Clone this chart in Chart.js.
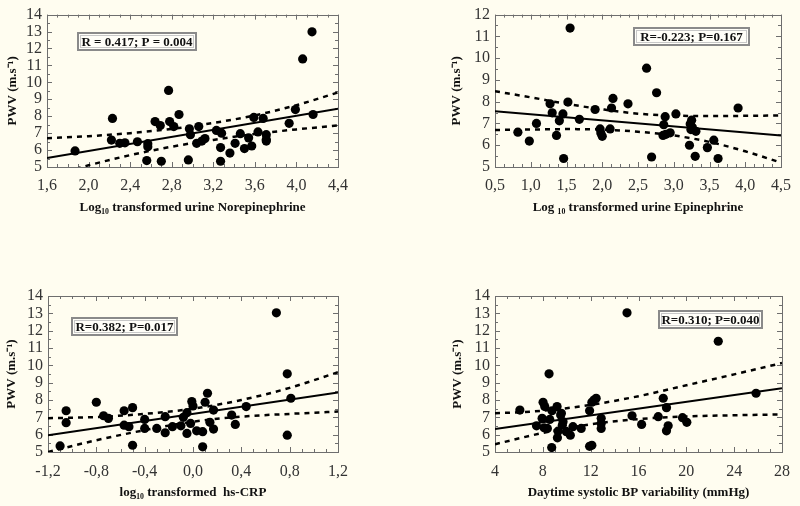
<!DOCTYPE html>
<html><head><meta charset="utf-8">
<script src="https://cdn.jsdelivr.net/npm/chart.js@4/dist/chart.umd.min.js"></script>
<style>
html,body{margin:0;padding:0;background:#FFFDF0;}
#wrap{position:relative;width:800px;height:506px;overflow:hidden;}
.p{position:absolute;width:400px;height:253px;}
</style></head><body>
<div id="wrap">
<div class="p" style="left:0;top:0"><canvas id="c1"></canvas></div>
<div class="p" style="left:400px;top:0"><canvas id="c2"></canvas></div>
<div class="p" style="left:0;top:253px"><canvas id="c3"></canvas></div>
<div class="p" style="left:400px;top:253px"><canvas id="c4"></canvas></div>
</div>
<script>
// ---------- Panel 1: Norepinephrine ----------
const neX = [1.87,2.23,2.22,2.30,2.35,2.47,2.56,2.57,2.57,2.64,2.69,2.70,2.77,2.78,2.82,2.87,2.96,2.97,2.98,3.04,3.06,3.09,3.12,3.23,3.28,3.27,3.27,3.36,3.41,3.46,3.50,3.54,3.57,3.59,3.63,3.68,3.71,3.71,3.71,3.93,3.99,4.06,4.15,4.16];
const neY = [5.95,7.87,6.59,6.40,6.43,6.49,5.38,6.20,6.38,7.68,7.45,5.34,9.52,7.68,7.39,8.10,5.42,7.26,6.91,6.40,7.39,6.53,6.68,7.16,7.00,5.34,6.15,5.82,6.40,6.97,6.09,6.72,6.24,7.93,7.07,7.87,6.91,6.62,6.53,7.58,8.39,11.38,12.98,8.10];
const neFitX = [1.6,4.4];
const neFitY = [5.53,8.44];
const neBandX = [1.6,2.0,2.4,2.8,3.2,3.6,4.0,4.4];
const neUpper = [6.70,6.82,7.00,7.25,7.60,8.05,8.65,9.40];
const neLower = [4.40,5.10,5.70,6.20,6.60,6.95,7.22,7.45];
const neXTicks = [1.6,2.0,2.4,2.8,3.2,3.6,4.0,4.4];
const neYTicks = [5,6,7,8,9,10,11,12,13,14];

// ---------- Panel 2: Epinephrine ----------
const epX = [0.82,0.98,1.08,1.27,1.30,1.36,1.40,1.45,1.46,1.52,1.55,1.68,1.90,1.97,1.98,2.00,2.11,2.13,2.15,2.36,2.62,2.69,2.76,2.86,2.88,2.85,2.89,2.95,3.03,3.22,3.23,3.24,3.25,3.26,3.30,3.31,3.47,3.56,3.62,3.90];
const epY = [6.60,6.19,7.00,7.90,7.49,6.45,7.12,7.44,5.39,7.98,11.38,7.19,7.64,6.75,6.56,6.41,6.75,7.71,8.15,7.90,9.54,5.46,8.41,6.94,7.31,6.45,6.50,6.57,7.44,6.00,6.97,6.72,7.15,6.82,5.49,6.64,5.89,6.23,5.39,7.71];
const epFitX = [0.5,4.5];
const epFitY = [7.56,6.45];
const epBandX = [0.5,1.0,1.5,2.0,2.5,3.0,3.5,4.0,4.5];
const epUpper = [8.48,8.20,7.90,7.65,7.45,7.36,7.34,7.35,7.37];
const epLower = [6.70,6.72,6.74,6.72,6.62,6.45,6.15,5.72,5.20];
const epXTicks = [0.5,1.0,1.5,2.0,2.5,3.0,3.5,4.0,4.5];
const epYTicks = [5,6,7,8,9,10,11,12];

// ---------- Panel 3: hs-CRP ----------
const crpX = [-1.10,-1.05,-1.05,-0.80,-0.74,-0.70,-0.57,-0.57,-0.53,-0.50,-0.50,-0.40,-0.40,-0.30,-0.23,-0.23,-0.17,-0.10,-0.08,-0.05,-0.05,-0.02,-0.01,0.00,0.03,0.08,0.08,0.10,0.12,0.14,0.17,0.17,0.32,0.35,0.44,0.69,0.78,0.78,0.81];
const crpY = [5.35,7.38,6.69,7.87,7.09,6.94,7.38,6.55,6.46,7.56,5.39,6.88,6.36,6.36,7.04,6.11,6.46,6.51,7.00,7.27,6.07,6.65,7.91,7.66,6.22,5.30,6.17,7.87,8.39,6.71,7.42,6.32,7.13,6.59,7.62,13.03,9.51,5.97,8.10];
const crpFitX = [-1.2,1.2];
const crpFitY = [5.97,8.43];
const crpBandX = [-1.2,-0.8,-0.4,0.0,0.4,0.8,1.2];
const crpUpper = [6.95,7.02,7.20,7.50,8.00,8.70,9.60];
const crpLower = [5.00,5.68,6.26,6.75,7.04,7.20,7.33];
const crpXTicks = [-1.2,-0.8,-0.4,0.0,0.4,0.8,1.2];
const crpYTicks = [5,6,7,8,9,10,11,12,13,14];

// ---------- Panel 4: Daytime SBP variability ----------
const bpX = [6.08,7.47,7.94,8.02,8.16,8.11,8.38,8.52,8.58,8.74,8.77,9.19,9.22,9.27,9.49,9.55,9.63,9.69,9.97,10.3,10.52,11.21,11.91,11.91,12.1,12.1,12.27,12.46,12.88,12.88,12.88,15.04,15.46,16.26,17.65,18.07,18.34,18.48,18.34,19.68,20.04,22.67,25.83];
const bpY = [7.42,6.51,6.94,7.87,7.62,6.40,6.36,9.51,6.88,5.26,7.38,7.62,5.82,6.20,7.13,7.23,6.55,6.75,6.17,5.97,6.46,6.36,7.38,5.33,5.39,7.87,8.00,8.10,6.94,6.65,6.36,13.03,7.09,6.59,7.04,8.10,7.56,6.51,6.22,6.98,6.71,11.39,8.39];
const bpFitX = [4,28];
const bpFitY = [6.32,8.68];
const bpBandX = [4,8,12,16,20,24,28];
const bpUpper = [7.23,7.38,7.72,8.22,8.85,9.48,10.13];
const bpLower = [5.45,6.10,6.60,6.90,7.05,7.12,7.17];
const bpXTicks = [4,8,12,16,20,24,28];
const bpYTicks = [5,6,7,8,9,10,11,12,13,14];

const FONT = "'Liberation Serif','Times New Roman',serif";
const pairs = (xs, ys) => xs.map((x, i) => ({x: x, y: ys[i]}));

const framePlugin = {
  id: 'frame',
  beforeDatasetsDraw(chart, args, o) {
    const {ctx, chartArea: a, scales} = chart;
    ctx.save();
    ctx.strokeStyle = '#6e6e6e';
    ctx.lineWidth = 1;
    ctx.strokeRect(Math.round(a.left) + 0.5, Math.round(a.top) + 0.5, Math.round(a.right - a.left), Math.round(a.bottom - a.top));
    ctx.beginPath();
    const xs = scales.x, ys = scales.y;
    for (let v = xs.min; v <= xs.max + 1e-9; v += o.xMinor) {
      const px = Math.round(xs.getPixelForValue(v)) + 0.5;
      const major = o.xTicks.some(t => Math.abs(t - v) < 1e-6);
      const L = major ? 5 : 3;
      ctx.moveTo(px, a.bottom); ctx.lineTo(px, a.bottom - L);
      ctx.moveTo(px, a.top); ctx.lineTo(px, a.top + L);
    }
    for (let v = ys.min; v <= ys.max + 1e-9; v += o.yMinor) {
      const py = Math.round(ys.getPixelForValue(v)) + 0.5;
      const major = Math.abs(v - Math.round(v)) < 1e-6;
      const L = major ? 5 : 3;
      ctx.moveTo(a.left, py); ctx.lineTo(a.left + L, py);
      ctx.moveTo(a.right, py); ctx.lineTo(a.right - L, py);
    }
    ctx.stroke();
    ctx.restore();
  },
  afterDatasetsDraw(chart, args, o) {
    const {ctx} = chart;
    const b = o.box;
    ctx.save();
    ctx.fillStyle = '#FFFEF8';
    ctx.fillRect(b.x, b.y, b.w, b.h);
    ctx.strokeStyle = '#8a8a8a';
    ctx.lineWidth = 2;
    ctx.strokeRect(b.x, b.y, b.w, b.h);
    ctx.strokeStyle = '#c8c8c8';
    ctx.lineWidth = 1;
    ctx.strokeRect(b.x + 2.5, b.y + 2.5, b.w - 5, b.h - 5);
    ctx.fillStyle = '#111';
    ctx.font = 'bold 13px ' + FONT;
    ctx.textAlign = 'center';
    ctx.textBaseline = 'middle';
    ctx.fillText(o.label, b.x + b.w / 2, b.y + b.h / 2 + 1);
    ctx.restore();
  }
};

function makeChart(id, cfg) {
  const datasets = [
    {label: 'data', data: pairs(cfg.px, cfg.py), pointRadius: 4.6, pointHoverRadius: 4.6,
     backgroundColor: '#000', borderWidth: 0, showLine: false, order: 0},
    {label: 'fit', data: pairs(cfg.fx, cfg.fy), showLine: true, pointRadius: 0,
     borderColor: '#000', borderWidth: 2, order: 1},
    {label: 'upper', data: pairs(cfg.bx, cfg.bu), showLine: true, pointRadius: 0,
     borderColor: '#000', borderWidth: 2.5, borderDash: [5, 5], cubicInterpolationMode: 'monotone', order: 2},
    {label: 'lower', data: pairs(cfg.bx, cfg.bl), showLine: true, pointRadius: 0,
     borderColor: '#000', borderWidth: 2.5, borderDash: [5, 5], cubicInterpolationMode: 'monotone', order: 3}
  ];
  const L = cfg.area;
  return new Chart(document.getElementById(id), {
    type: 'scatter',
    data: {datasets},
    plugins: [framePlugin],
    options: {
      responsive: true, maintainAspectRatio: false, animation: false,
      events: [],
      layout: {padding: {left: L.padLeft, right: 400 - L.right, top: L.top, bottom: 253 - L.bottom - 48.8}},
      plugins: {
        legend: {display: false}, tooltip: {enabled: false},
        frame: {xMinor: cfg.xMinor, yMinor: 0.5, xTicks: cfg.xTicks, label: cfg.label, box: cfg.box}
      },
      scales: {
        x: {
          type: 'linear', min: cfg.xTicks[0], max: cfg.xTicks[cfg.xTicks.length - 1],
          afterBuildTicks: s => { s.ticks = cfg.xTicks.map(v => ({value: v})); },
          afterFit: s => { s.height = 48.8; },
          grid: {display: false, drawTicks: false}, border: {display: false},
          ticks: {autoSkip: false, maxRotation: 0, padding: cfg.xPad, color: '#333',
                  font: {family: FONT, size: 16}, callback: cfg.xFmt},
          title: {display: true, text: cfg.xTitle, color: '#111', padding: 0,
                  font: {family: FONT, size: 13, weight: 'bold', lineHeight: 1.2}}
        },
        y: {
          type: 'linear', min: cfg.yTicks[0], max: cfg.yTicks[cfg.yTicks.length - 1],
          afterBuildTicks: s => { s.ticks = cfg.yTicks.map(v => ({value: v})); },
          afterFit: s => { s.width = L.left - L.padLeft; },
          grid: {display: false, drawTicks: false}, border: {display: false},
          ticks: {autoSkip: false, padding: 5, color: '#333', font: {family: FONT, size: 16}},
          title: {display: true, text: 'PWV (m.s\u207B\u00B9)', color: '#111',
                  padding: {top: cfg.yTitleX - L.padLeft - 7.8, bottom: 0},
                  font: {family: FONT, size: 13, weight: 'bold', lineHeight: 1.2}}
        }
      }
    }
  });
}

const comma1 = v => v.toFixed(1).replace('.', ',');
const int0 = v => String(Math.round(v));

makeChart('c1', {px: neX, py: neY, fx: neFitX, fy: neFitY, bx: neBandX, bu: neUpper, bl: neLower,
  xTicks: neXTicks, yTicks: neYTicks, xMinor: 0.1, xFmt: comma1, xPad: 9,
  xTitle: 'Log\u2081\u2080 transformed urine Norepinephrine', yTitleX: 13,
  label: 'R = 0.417; P = 0.004', box: {x: 78, y: 33, w: 118, h: 17},
  area: {padLeft: 0, left: 47, right: 338, top: 10, bottom: 167}});

makeChart('c2', {px: epX, py: epY, fx: epFitX, fy: epFitY, bx: epBandX, bu: epUpper, bl: epLower,
  xTicks: epXTicks, yTicks: epYTicks, xMinor: 0.125, xFmt: comma1, xPad: 9,
  xTitle: 'Log \u2081\u2080 transformed urine Epinephrine', yTitleX: 57,
  label: 'R=-0.223; P=0.167', box: {x: 234, y: 28, w: 115, h: 17},
  area: {padLeft: 44, left: 95, right: 383, top: 10, bottom: 167}});

makeChart('c3', {px: crpX, py: crpY, fx: crpFitX, fy: crpFitY, bx: crpBandX, bu: crpUpper, bl: crpLower,
  xTicks: crpXTicks, yTicks: crpYTicks, xMinor: 0.1, xFmt: comma1, xPad: 10,
  xTitle: 'log\u2081\u2080 transformed  hs-CRP', yTitleX: 12,
  label: 'R=0.382; P=0.017', box: {x: 72, y: 65, w: 105, h: 17},
  area: {padLeft: 0, left: 48, right: 338, top: 43, bottom: 199}});

makeChart('c4', {px: bpX, py: bpY, fx: bpFitX, fy: bpFitY, bx: bpBandX, bu: bpUpper, bl: bpLower,
  xTicks: bpXTicks, yTicks: bpYTicks, xMinor: 1, xFmt: int0, xPad: 10,
  xTitle: 'Daytime systolic BP variability (mmHg)', yTitleX: 58,
  label: 'R=0.310; P=0.040', box: {x: 259, y: 58, w: 103, h: 17},
  area: {padLeft: 45, left: 95, right: 383, top: 43, bottom: 199}});
</script>
</body></html>
